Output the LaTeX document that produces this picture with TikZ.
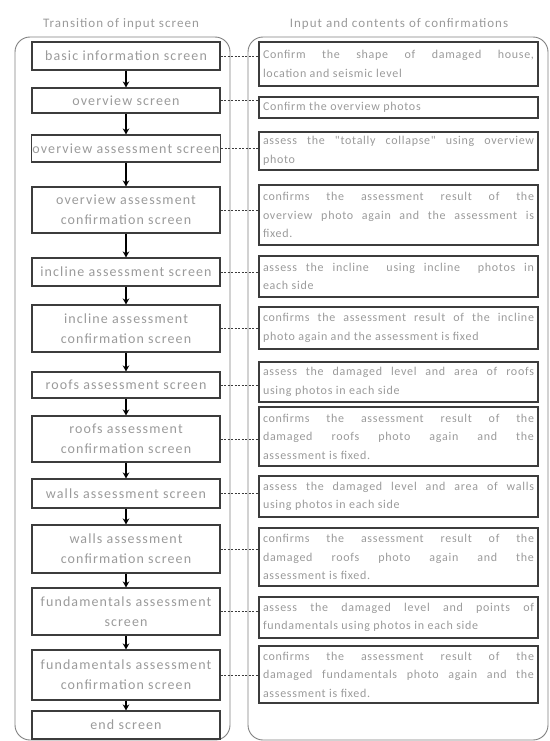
\documentclass[tikz,border=0pt]{standalone}
\usepackage{fontspec}
\setmainfont{Carlito}
\newfontfamily\spacedfont[LetterSpace=8]{Carlito}
\newfontfamily\bodyfont[LetterSpace=6]{Carlito}
\usetikzlibrary{arrows.meta}
\definecolor{txtgray}{HTML}{9A9A9A}
\definecolor{boxline}{HTML}{3C3C3C}
\definecolor{frameline}{HTML}{808080}
\begin{document}
\begin{tikzpicture}[x=1pt, y=-1pt,
		screen/.style={draw=boxline, line width=1.1pt, minimum width=188pt, inner xsep=1pt, inner ysep=2pt, align=center, text=txtgray, font=\spacedfont\fontsize{14}{20}\selectfont},
		check/.style={draw=boxline, line width=1.1pt, text width=271pt, inner xsep=4pt, inner ysep=2pt, align=justify, text=txtgray, font=\bodyfont\fontsize{12}{18.5}\selectfont},
		frame/.style={draw=frameline, line width=0.9pt, rounded corners=15pt}]
			\useasboundingbox (0,0) rectangle (549,741);
			
			%titles
			\node[text=txtgray, font=\spacedfont\fontsize{13}{15}\selectfont] (tleft) at (121, 24){Transition of input screen};
			\node[text=txtgray, font=\spacedfont\fontsize{13}{15}\selectfont] (tright) at (399, 24){Input and contents of confirmations};
			\draw[frame] (15,37) rectangle (230,740);
			\draw[frame] (248,37) rectangle (548,740);
			
			%screens
			\node[screen, minimum height=28pt] (l1) at (126, 56){basic information screen};
			\node[screen, minimum height=25pt] (l2) at (126, 100.5){overview screen};
			\node[screen, minimum height=27pt] (l3) at (126, 148.5){overview assessment screen};
			\node[screen, minimum height=46pt] (l4) at (126, 210){overview assessment\\confirmation screen};
			\node[screen, minimum height=28pt] (l5) at (126, 272){incline assessment screen};
			\node[screen, minimum height=47pt] (l6) at (126, 328.5){incline assessment\\confirmation screen};
			\node[screen, minimum height=26pt] (l7) at (126, 385){roofs assessment screen};
			\node[screen, minimum height=46pt] (l8) at (126, 439){roofs assessment\\confirmation screen};
			\node[screen, minimum height=29pt] (l9) at (126, 493.5){walls assessment screen};
			\node[screen, minimum height=48pt] (l10) at (126, 549){walls assessment\\confirmation screen};
			\node[screen, minimum height=47pt] (l11) at (126, 611.5){fundamentals assessment\\screen};
			\node[screen, minimum height=50pt] (l12) at (126, 675){fundamentals assessment\\confirmation screen};
			\node[screen, minimum height=28pt] (l13) at (126, 725){end screen};
			
			\foreach \a/\b in {l1/l2, l2/l3, l3/l4, l4/l5, l5/l6, l6/l7, l7/l8, l8/l9, l9/l10, l10/l11, l11/l12, l12/l13}{
				\draw[-{Stealth[length=6pt, width=6.5pt]}, line width=1.4pt] (\a) -- (\b);
			}
			
			%confirmations
			\node[check, minimum height=44pt] (r1) at (398.5, 64){Confirm the shape of damaged house,\linebreak location and seismic level};
			\node[check, minimum height=21pt] (r2) at (398.5, 107.5){Confirm the overview photos};
			\node[check, minimum height=38pt] (r3) at (398.5, 151){assess the "totally collapse" using overview\linebreak photo};
			\node[check, minimum height=60pt] (r4) at (398.5, 215){confirms the assessment result of the\linebreak overview photo again and the assessment is\linebreak fixed.};
			\node[check, minimum height=41pt] (r5) at (398.5, 276.5){assess the incline\ \ using incline\ \ photos in\linebreak each side};
			\node[check, minimum height=42pt] (r6) at (398.5, 328){confirms the assessment result of the incline\linebreak photo again and the assessment is fixed};
			\node[check, minimum height=40pt] (r7) at (398.5, 382){assess the damaged level and area of roofs\linebreak using photos in each side};
			\node[check, minimum height=59pt] (r8) at (398.5, 436.5){confirms the assessment result of the\linebreak damaged roofs photo again and the\linebreak assessment is fixed.};
			\node[check, minimum height=41pt] (r9) at (398.5, 496.5){assess the damaged level and area of walls\linebreak using photos in each side};
			\node[check, minimum height=58pt] (r10) at (398.5, 557){confirms the assessment result of the\linebreak damaged roofs photo again and the\linebreak assessment is fixed.};
			\node[check, minimum height=41pt] (r11) at (398.5, 617.5){assess the damaged level and points of\linebreak fundamentals using photos in each side};
			\node[check, minimum height=57pt] (r12) at (398.5, 674.5){confirms the assessment result of the\linebreak damaged fundamentals photo again and the\linebreak assessment is fixed.};
			
			\foreach \i in {1, 2, ..., 12}{
				\draw[dash pattern=on 2pt off 1.5pt, boxline, line width=0.8pt] (l\i.east) -- (l\i.east -| r\i.west);
			}
		\end{tikzpicture}
\end{document}
